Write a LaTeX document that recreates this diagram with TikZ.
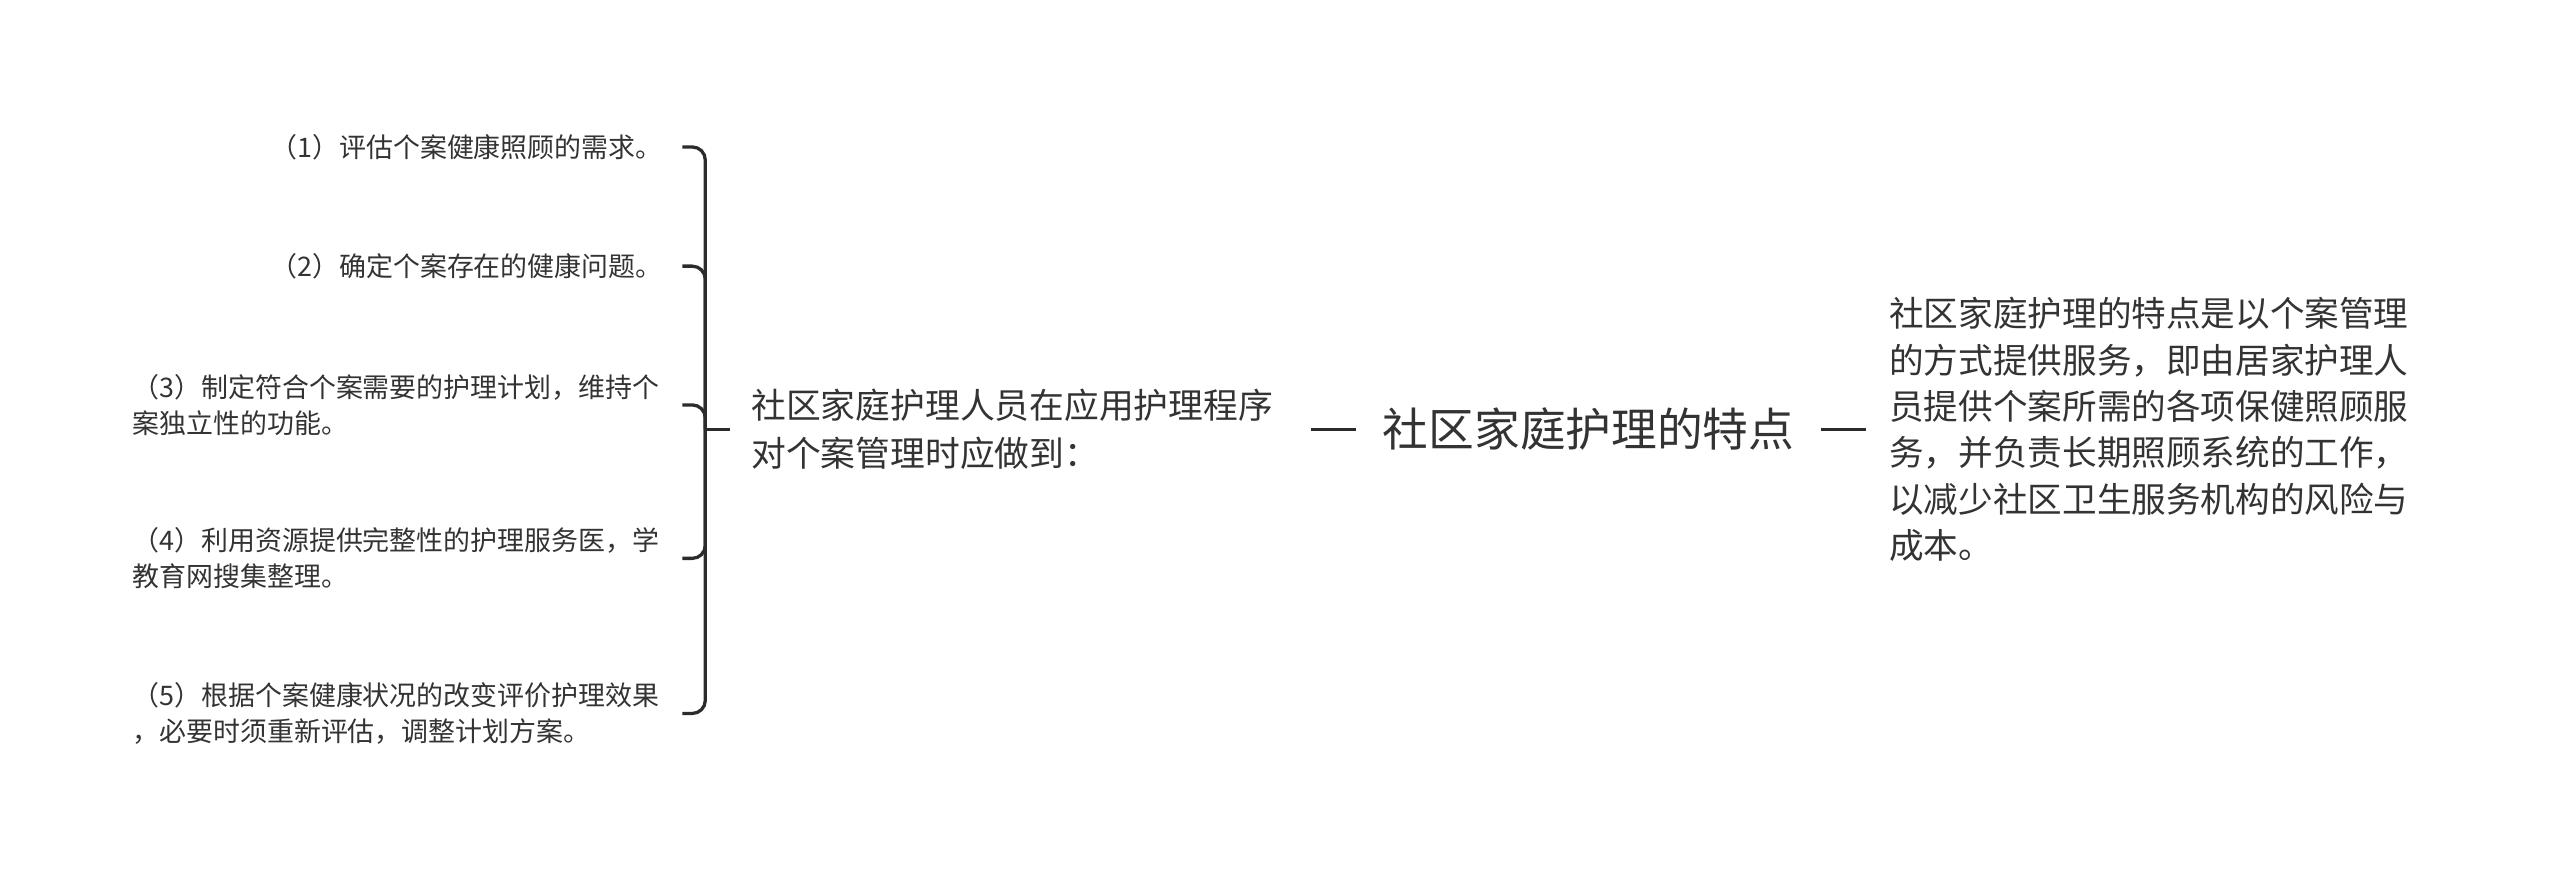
\documentclass[tikz,border=0pt]{standalone}
\usepackage{fontspec}
\setmainfont{Noto Sans CJK SC}
\definecolor{ink}{HTML}{333333}
\definecolor{linec}{HTML}{2B2B2B}
\tikzset{
  leaf/.style={anchor=east, inner xsep=0pt, inner ysep=0pt, align=left, text=ink,
    font=\fontsize{16.5}{22}\selectfont},
  midbox/.style={anchor=west, inner xsep=13pt, align=left, text=ink,
    font=\fontsize{21.3}{29}\selectfont},
  rootbox/.style={inner xsep=16pt, text=ink, font=\fontsize{28}{34}\selectfont},
  rightbox/.style={anchor=west, inner xsep=14pt, align=left, text=ink,
    font=\fontsize{21.2}{28.4}\selectfont},
  conn/.style={draw=linec, line width=2pt},
  hook/.style={draw=linec, line width=2pt, rounded corners=8pt},
}
\begin{document}
\begin{tikzpicture}[x=1pt,y=1pt]
\useasboundingbox (0,0) rectangle (1568,-536);
% leaves
\node[leaf] (l1) at (406,-90) {（1）评估个案健康照顾的需求。};
\node[leaf] (l2) at (406,-163) {（2）确定个案存在的健康问题。};
\node[leaf] (l3) at (404,-248) {（3）制定符合个案需要的护理计划，维持个\\案独立性的功能。};
\node[leaf] (l4) at (404,-342) {（4）利用资源提供完整性的护理服务医，学\\教育网搜集整理。};
\node[leaf] (l5) at (404,-437) {（5）根据个案健康状况的改变评价护理效果\\，必要时须重新评估，调整计划方案。};
\coordinate (hx) at (418,0);
\coordinate (bx) at (432,-263);
% middle
\node[midbox] (mid) at (447,-263) {社区家庭护理人员在应用护理程序\\对个案管理时应做到：};
% root
\node[rootbox] (root) at (973,-263) {社区家庭护理的特点};
% right
\node[rightbox] (right) at (1143,-263) {社区家庭护理的特点是以个案管理\\的方式提供服务，即由居家护理人\\员提供个案所需的各项保健照顾服\\务，并负责长期照顾系统的工作，\\以减少社区卫生服务机构的风险与\\成本。};
% bracket
\foreach \n in {l1,l2,l3,l4,l5}
  \draw[hook] (\n.east -| hx) -| (bx);
\draw[conn] (bx) -- (mid.west);
\draw[conn, shorten <=10pt] (mid.east) -- (root.west);
\draw[conn] (root.east) -- (right.west);
\end{tikzpicture}
\end{document}
